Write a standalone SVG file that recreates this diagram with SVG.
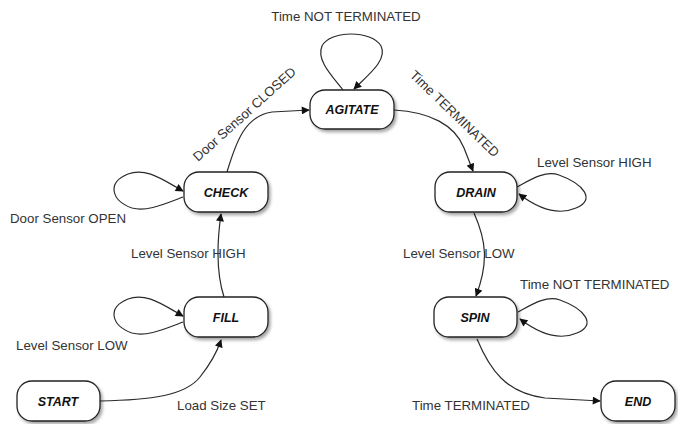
<svg xmlns="http://www.w3.org/2000/svg" width="678" height="424" viewBox="0 0 678 424">
<style>
.node rect.b{fill:#fff;stroke:#222;stroke-width:1.3}
.node text{font-family:"Liberation Sans",Arial,sans-serif;font-weight:bold;font-style:italic;font-size:12.5px;fill:#111;text-anchor:middle}
.lbl{font-family:"Liberation Sans",Arial,sans-serif;font-size:13.3px;fill:#333}
.e{fill:none;stroke:#2a2a2a;stroke-width:1.2;marker-end:url(#ah)}
</style>
<defs>
<marker id="ah" viewBox="0 0 10 10" refX="9" refY="5" markerWidth="9" markerHeight="8" markerUnits="userSpaceOnUse" orient="auto">
<path d="M0,0 L10,5 L0,10 z" fill="#111"/>
</marker>
<filter id="sh" x="-20%" y="-20%" width="140%" height="150%">
<feDropShadow dx="2" dy="2.5" stdDeviation="1.5" flood-color="#000" flood-opacity="0.35"/>
</filter>
</defs>
<rect width="678" height="424" fill="#fff"/>
<g id="connectors">
<path class="e" d="M100,401 C150,400 185,396 200,377 C212,362 217,352 221,340"/>
<path class="e" d="M224,297 C216,272 217,242 221,214"/>
<path class="e" d="M227,172 C236,142 245,116 272,112 L309,110"/>
<path class="e" d="M183,197 C162,205 146,212 132,208 C112,201 106,183 128,174 C146,167 163,180 183,191"/>
<path class="e" d="M183,322 C162,330 146,337 132,333 C112,326 106,308 128,299 C146,292 163,305 183,316"/>
<path class="e" d="M343,90 C332,76 316,60 322,46 C330,30 372,30 381,46 C388,60 368,75 354,89"/>
<path class="e" d="M394,110 C430,112 455,125 464,148 L473,171"/>
<path class="e" d="M517,187 C530,180 545,170 559,175 C584,184 596,200 576,208 C560,215 540,210 519,194"/>
<path class="e" d="M474,213 C486,240 489,262 476,296"/>
<path class="e" d="M518,312 C531,305 546,295 560,300 C585,309 597,325 577,333 C561,340 541,335 520,319"/>
<path class="e" d="M477,339 C490,370 506,393 545,398 L600,401"/>
</g>
<g id="labels">
<text class="lbl" x="346" y="21" text-anchor="middle">Time NOT TERMINATED</text>
<text class="lbl" transform="translate(198,162) rotate(-42)">Door Sensor CLOSED</text>
<text class="lbl" transform="translate(409,76) rotate(44)">Time TERMINATED</text>
<text class="lbl" x="537" y="167">Level Sensor HIGH</text>
<text class="lbl" x="10" y="223">Door Sensor OPEN</text>
<text class="lbl" x="131" y="258">Level Sensor HIGH</text>
<text class="lbl" x="16" y="350">Level Sensor LOW</text>
<text class="lbl" x="177" y="410">Load Size SET</text>
<text class="lbl" x="403" y="258">Level Sensor LOW</text>
<text class="lbl" x="520" y="289">Time NOT TERMINATED</text>
<text class="lbl" x="412" y="410">Time TERMINATED</text>
</g>
<g id="AGITATE" class="node"><rect class="b" x="310" y="90" width="84" height="39" rx="15" filter="url(#sh)"/><text x="352" y="114">AGITATE</text></g>
<g id="CHECK" class="node"><rect class="b" x="184" y="172" width="84" height="40" rx="15" filter="url(#sh)"/><text x="226" y="197">CHECK</text></g>
<g id="FILL" class="node"><rect class="b" x="184" y="297" width="84" height="40" rx="15" filter="url(#sh)"/><text x="226" y="322">FILL</text></g>
<g id="START" class="node"><rect class="b" x="17" y="381" width="83" height="40" rx="15" filter="url(#sh)"/><text x="58" y="406">START</text></g>
<g id="DRAIN" class="node"><rect class="b" x="435" y="172" width="82" height="40" rx="15" filter="url(#sh)"/><text x="476" y="197">DRAIN</text></g>
<g id="SPIN" class="node"><rect class="b" x="434" y="297" width="83" height="40" rx="15" filter="url(#sh)"/><text x="475" y="322">SPIN</text></g>
<g id="END" class="node"><rect class="b" x="601" y="381" width="74" height="40" rx="15" filter="url(#sh)"/><text x="638" y="406">END</text></g>
</svg>
